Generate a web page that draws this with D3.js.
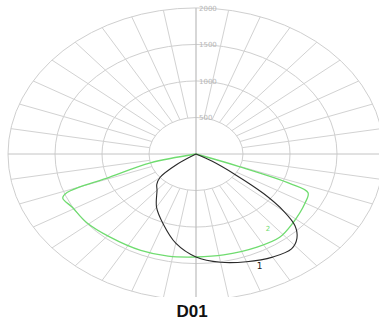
<!DOCTYPE html>
<html>
<head>
<meta charset="utf-8">
<script src="https://cdn.jsdelivr.net/npm/d3@7/dist/d3.min.js"></script>
<style>
  html, body { margin: 0; padding: 0; background: #fff; }
  svg { display: block; }
</style>
</head>
<body>
<svg id="chart" width="379" height="323"></svg>
<script>
// Polar light distribution, luminous intensity in cd/klm
const ringValues = [500, 1000, 1500, 2000];
const ringLabels = ["500", "1000", "1500", "2000"];
const spokeStep = 10; // degrees

// Curve 1 (black): angle from nadir in degrees (right = positive), intensity
const curve1Angles = [-60, -55, -50, -45, -40, -30, -20, -10, 0, 10, 20, 30, 38, 43, 47, 50, 53, 56, 60, 64];
const curve1Values = [0, 250, 500, 590, 645, 840, 1020, 1240, 1410, 1505, 1570, 1630, 1650, 1575, 1440, 1220, 900, 500, 200, 0];

// Curve 2 (green)
const curve2Angles = [-78, -76, -71, -69, -67, -61, -51, -39, -24, -12, 0, 12, 27, 38, 47, 60, 66, 68, 69.5, 72];
const curve2Values = [0, 500, 970, 1470, 1540, 1505, 1495, 1460, 1445, 1430, 1410, 1413, 1430, 1446, 1400, 1340, 1305, 1080, 500, 0];

const title = "D01";

const svg = d3.select("#chart");
const cx = 196, cy = 154, squash = 0.777;
const r = d3.scaleLinear().domain([0, 2000]).range([0, 188]);
const rad = d => d * Math.PI / 180;

// point on the tilted disk: angle measured from nadir (downwards)
const px = (a, v) => cx + r(v) * Math.sin(rad(a));
const py = (a, v) => cy + r(v) * squash * Math.cos(rad(a));

svg.append("defs").append("clipPath").attr("id", "plotClip")
  .append("rect").attr("x", 0).attr("y", 0).attr("width", 379).attr("height", 297);

const g = svg.append("g").attr("clip-path", "url(#plotClip)");

// rings
g.selectAll("ellipse.ring").data(ringValues).enter().append("ellipse")
  .attr("class", "ring")
  .attr("cx", cx).attr("cy", cy)
  .attr("rx", d => r(d)).attr("ry", d => r(d) * squash)
  .attr("fill", "none").attr("stroke", "#cfcfcf").attr("stroke-width", 1);

// spokes between the first and last ring
const spokeAngles = d3.range(0, 360, spokeStep).filter(a => a % 90 !== 0);
g.selectAll("line.spoke").data(spokeAngles).enter().append("line")
  .attr("class", "spoke")
  .attr("x1", a => px(a, ringValues[0])).attr("y1", a => py(a, ringValues[0]))
  .attr("x2", a => px(a, ringValues[ringValues.length - 1])).attr("y2", a => py(a, ringValues[ringValues.length - 1]))
  .attr("stroke", "#d2d2d2").attr("stroke-width", 1);

// main axes
const rMax = ringValues[ringValues.length - 1];
g.append("line")
  .attr("x1", px(-90, rMax)).attr("y1", cy).attr("x2", px(90, rMax)).attr("y2", cy)
  .attr("stroke", "#c4c4c4").attr("stroke-width", 1);
g.append("line")
  .attr("x1", cx).attr("y1", py(180, rMax)).attr("x2", cx).attr("y2", py(0, rMax))
  .attr("stroke", "#bdbdbd").attr("stroke-width", 1.2);

// ring labels on the upper vertical axis
ringValues.forEach((v, i) => {
  const y = py(180, v);
  const t = g.append("text")
    .attr("x", cx + 3).attr("y", y + 3)
    .attr("font-family", "DejaVu Sans, sans-serif")
    .attr("font-size", 7)
    .attr("fill", "#b8b8b8")
    .text(ringLabels[i]);
});

const line = d3.line()
  .x(d => px(d[0], d[1]))
  .y(d => py(d[0], d[1]))
  .curve(d3.curveCatmullRom.alpha(0.5));

const pts2 = curve2Angles.map((a, i) => [a, curve2Values[i]]);
const pts1 = curve1Angles.map((a, i) => [a, curve1Values[i]]);

g.append("path").attr("d", line(pts2))
  .attr("fill", "none").attr("stroke", "#6fdc6f").attr("stroke-width", 1.3);
g.append("path").attr("d", line(pts1))
  .attr("fill", "none").attr("stroke", "#2a2a2a").attr("stroke-width", 1.1);

// curve numbers
g.append("text").attr("x", px(32, 1700) - 24).attr("y", py(32, 1700) + 10)
  .attr("font-family", "DejaVu Sans, sans-serif").attr("font-size", 9)
  .attr("fill", "#222").text("1");
g.append("text").attr("x", px(37, 1270) - 2).attr("y", py(37, 1270) + 3)
  .attr("font-family", "DejaVu Sans, sans-serif").attr("font-size", 7)
  .attr("fill", "#6fdc6f").text("2");

// caption
svg.append("text")
  .attr("x", 192).attr("y", 317)
  .attr("text-anchor", "middle")
  .attr("font-family", "Liberation Sans, Arial, sans-serif")
  .attr("font-weight", "bold")
  .attr("font-size", 17)
  .attr("fill", "#111")
  .text(title);
</script>
</body>
</html>
